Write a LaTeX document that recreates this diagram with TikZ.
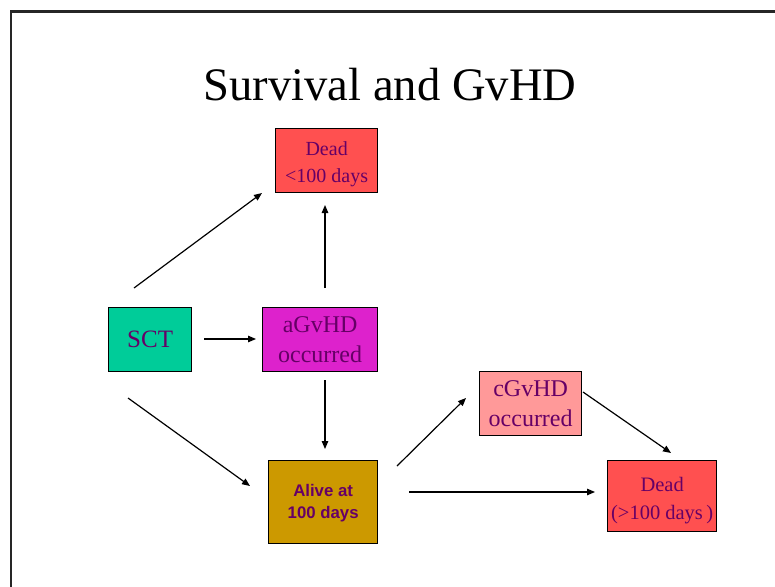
\documentclass[tikz,border=0pt]{standalone}
\usepackage{fontspec}
\setmainfont{Liberation Serif}
\newfontfamily\arialbold{Liberation Sans}[BoldFont={* Bold}]
\usetikzlibrary{arrows.meta}
\definecolor{deadred}{HTML}{FF5050}
\definecolor{sctgreen}{HTML}{00CC99}
\definecolor{amagenta}{HTML}{DD22CC}
\definecolor{cpink}{HTML}{FF9999}
\definecolor{alivegold}{HTML}{CC9900}
\definecolor{labelpurple}{HTML}{660066}
\tikzset{
  box/.style={draw=black, line width=1.3pt, inner sep=0pt, anchor=north west,
    text=labelpurple, align=center},
  arr/.style={line width=1.2pt, -{Triangle[length=8pt,width=6.5pt]}},
  frame/.style={line width=2.2pt, draw=black!85}
}
\newcommand{\boxat}[6]{% name, x, y, w, h, fill
  \node[box, fill=#6, minimum width=#4pt, minimum height=#5pt] (#1) at (#2,#3) {};}
\begin{document}
\begin{tikzpicture}[x=1pt,y=-1pt]
\useasboundingbox (0,0) rectangle (775,586);
\fill[white] (0,0) rectangle (775,586);
% slide frame
\draw[frame] (790,11.5) -- (11,11.5) -- (11,600);
% title
\node[font=\fontsize{46.6}{50}\selectfont, anchor=base] (title) at (390,100) {Survival and GvHD};
% boxes
\boxat{deadA}{275}{128}{102}{64}{deadred}
\boxat{sct}{108}{307}{83}{64}{sctgreen}
\boxat{agvhd}{262}{307}{115}{64}{amagenta}
\boxat{alive}{268}{460}{109}{83}{alivegold}
\boxat{cgvhd}{479}{371}{102}{64}{cpink}
\boxat{deadB}{607}{460}{109}{71}{deadred}
% labels
\node[text=labelpurple, align=center, font=\fontsize{20}{26.5}\selectfont] at ([yshift=-3.5]deadA.center) {Dead\\<100 days};
\node[text=labelpurple, font=\fontsize{25}{29}\selectfont] at (sct.center) {SCT};
\node[text=labelpurple, align=center, font=\fontsize{24}{30}\selectfont] at (agvhd.center) {aGvHD\\occurred};
\node[text=labelpurple, align=center, font=\arialbold\bfseries\fontsize{16.8}{22}\selectfont] at ([yshift=-1]alive.center) {Alive at\\100 days};
\node[text=labelpurple, align=center, font=\fontsize{24}{30}\selectfont] at (cgvhd.center) {cGvHD\\occurred};
\node[text=labelpurple, align=center, font=\fontsize{20.5}{28}\selectfont] at ([yshift=-4]deadB.center) {Dead\\(>100 days\,)};
% connector ends
\coordinate (sctNE) at (134,288);
\coordinate (deadAin) at (262,193);
\coordinate (aUp) at (325,288);
\coordinate (deadAbot) at (325,205);
\coordinate (sctE) at (204,339);
\coordinate (agIn) at (256,339);
\coordinate (agDown) at (325,380);
\coordinate (aliveTop) at (325,449);
\coordinate (sctSE) at (128,398);
\coordinate (aliveIn) at (250,486);
\coordinate (aliveNE) at (397,466);
\coordinate (cgIn) at (466,398);
\coordinate (aliveE) at (409,492);
\coordinate (deadBin) at (595,492);
\coordinate (cgOut) at (583,392);
\coordinate (deadBtop) at (671,453);
% connectors
\draw[arr] (sctNE) -- (deadAin);
\draw[arr] (aUp) -- (deadAbot);
\draw[arr] (sctE) -- (agIn);
\draw[arr] (agDown) -- (aliveTop);
\draw[arr] (sctSE) -- (aliveIn);
\draw[arr] (aliveNE) -- (cgIn);
\draw[arr] (aliveE) -- (deadBin);
\draw[arr] (cgOut) -- (deadBtop);
\end{tikzpicture}
\end{document}
